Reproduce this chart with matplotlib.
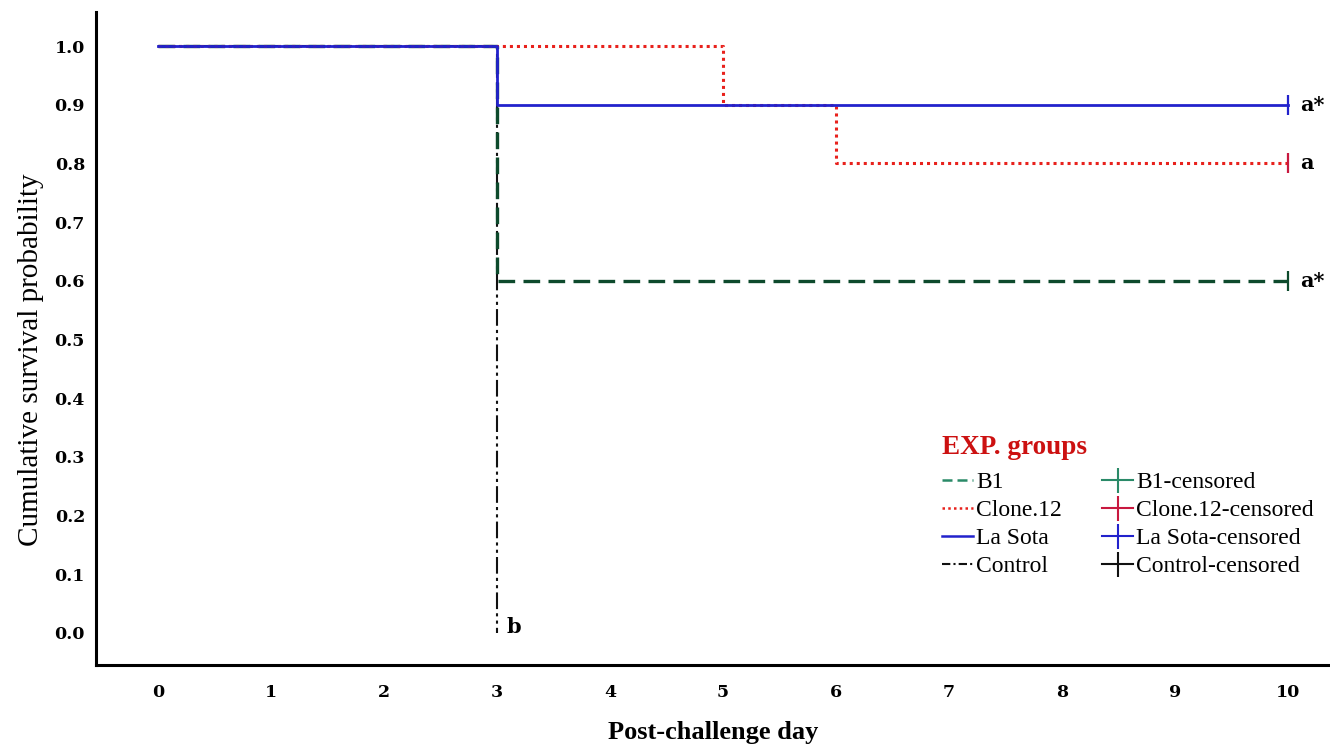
import matplotlib.pyplot as plt
from matplotlib.lines import Line2D

# survival steps (time, probability), held until next time
b1_t = [0, 3, 10]
b1_s = [1.0, 0.6, 0.6]
clone_t = [0, 5, 6, 10]
clone_s = [1.0, 0.9, 0.8, 0.8]
sota_t = [0, 3, 10]
sota_s = [1.0, 0.9, 0.9]
ctrl_t = [0, 3]
ctrl_s = [1.0, 0.0]

days = list(range(0, 11))
yticks = [round(i * 0.1, 1) for i in range(11)]

c_b1 = '#0d4a2c'
c_b1_leg = '#2a8a68'
c_clone = '#e8211c'
c_clone_cens = '#c8183f'
c_sota = '#2222cc'
c_ctrl = '#111111'

fig = plt.figure(figsize=(13.3, 7.48), dpi=100)
ax = fig.add_axes([0.0722, 0.111, 0.9278, 0.873])

ax.step(ctrl_t, ctrl_s, where='post', color=c_ctrl, lw=1.5, ls=(0, (8, 2, 1.5, 2, 1.5, 2)))
ax.step(b1_t, b1_s, where='post', color=c_b1, lw=2.4, ls=(0, (5, 2.5)))
ax.step(clone_t, clone_s, where='post', color=c_clone, lw=2.2, ls=(0, (1, 1.3)))
ax.step(sota_t, sota_s, where='post', color=c_sota, lw=2.0)

# censored marks at end of follow-up
ax.plot([b1_t[-1]], [b1_s[-1]], marker='|', ms=14, mew=1.6, color=c_b1, ls='none')
ax.plot([clone_t[-1]], [clone_s[-1]], marker='|', ms=14, mew=1.6, color=c_clone_cens, ls='none')
ax.plot([sota_t[-1]], [sota_s[-1]], marker='|', ms=14, mew=1.6, color=c_sota, ls='none')

bold_txt = dict(fontsize=15, fontweight='bold', family='DejaVu Serif', va='center')
ax.text(10.11, 0.9, 'a*', **bold_txt)
ax.text(10.11, 0.8, 'a', **bold_txt)
ax.text(10.11, 0.6, 'a*', **bold_txt)
ax.text(3.08, 0.01, 'b', **bold_txt)

ax.set_xlim(-0.55, 10.37)
ax.set_ylim(-0.0545, 1.058)
ax.set_xticks(days)
ax.set_yticks(yticks)
ax.set_yticklabels([f'{v:.1f}' for v in yticks])
for lab in ax.get_xticklabels() + ax.get_yticklabels():
    lab.set_fontfamily('DejaVu Serif')
    lab.set_fontweight('bold')
    lab.set_fontsize(12.5)
ax.tick_params(axis='both', length=0)
ax.tick_params(axis='y', pad=8)
ax.tick_params(axis='x', pad=14)

for s in ['top', 'right']:
    ax.spines[s].set_visible(False)
for s in ['left', 'bottom']:
    ax.spines[s].set_linewidth(2.2)

ax.set_ylabel('Cumulative survival probability', family='Liberation Serif', fontsize=21)
ax.yaxis.set_label_coords(-0.042, 0.468)
ax.set_xlabel('Post-challenge day', family='Liberation Serif', fontweight='bold', fontsize=19)
ax.xaxis.set_label_coords(0.5, -0.086)

handles = [
    Line2D([], [], color=c_b1_leg, lw=1.8, ls=(0, (4, 2))),
    Line2D([], [], color=c_clone, lw=1.8, ls=(0, (1, 1.3))),
    Line2D([], [], color=c_sota, lw=1.8),
    Line2D([], [], color=c_ctrl, lw=1.5, ls=(0, (4, 1.5, 1, 1.5))),
    Line2D([], [], color=c_b1_leg, lw=1.5, marker='|', ms=18, mew=1.5),
    Line2D([], [], color=c_clone_cens, lw=1.5, marker='|', ms=18, mew=1.5),
    Line2D([], [], color=c_sota, lw=1.5, marker='|', ms=18, mew=1.5),
    Line2D([], [], color=c_ctrl, lw=1.5, marker='|', ms=18, mew=1.5),
]
labels = ['B1', 'Clone.12', 'La Sota', 'Control',
          'B1-censored', 'Clone.12-censored', 'La Sota-censored', 'Control-censored']
leg = ax.legend(handles, labels, ncol=2, loc='upper left', bbox_to_anchor=(0.678, 0.366),
                frameon=False, title='EXP. groups', alignment='left',
                prop={'family': 'Liberation Serif', 'size': 17},
                handlelength=1.3, handletextpad=0.15, columnspacing=1.7,
                labelspacing=0.27, borderaxespad=0)
leg.get_title().set_color('#cc1111')
leg.get_title().set_fontweight('bold')
leg.get_title().set_fontsize(19.5)
leg.get_title().set_fontfamily('Liberation Serif')
leg._legend_box.sep = 8

fig.savefig('out.png', dpi=100)
